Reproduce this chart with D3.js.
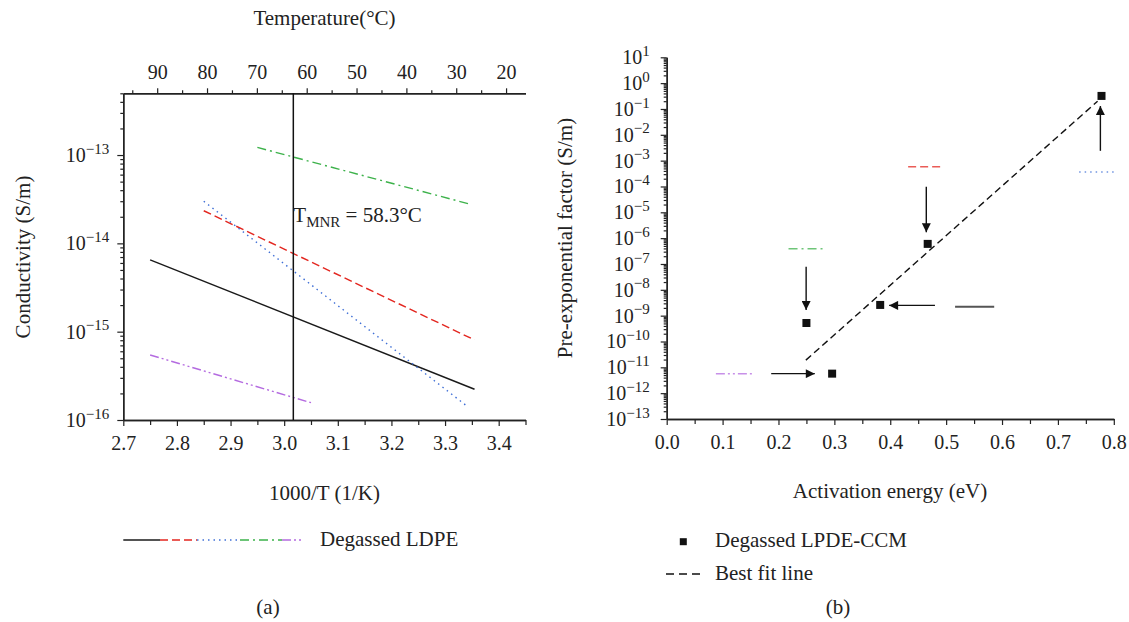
<!DOCTYPE html>
<html>
<head>
<meta charset="utf-8">
<script src="https://cdn.jsdelivr.net/npm/d3@7"></script>
<style>
  body { margin: 0; background: #fff; }
  svg text { font-family: "Liberation Serif", "Times New Roman", serif; fill: #222; }
</style>
</head>
<body>
<svg id="chart" width="1129" height="622"></svg>
<script>
// ---------- (a) conductivity vs 1000/T, degassed LDPE ----------
const lineIds     = ["solid", "dashed", "dotted", "dashDot", "dashDotDot"];
const lineInvT0   = [2.75, 2.85, 2.85, 2.95, 2.75];
const lineInvT1   = [3.355, 3.355, 3.34, 3.35, 3.05];
const lineSigma0  = [6.5e-15, 2.34e-14, 3.0e-14, 1.22e-13, 5.45e-16];
const lineSigma1  = [2.23e-16, 8.06e-16, 1.45e-16, 2.74e-14, 1.57e-16];
const tMNR        = 58.3;                       // °C
const invTTicks   = [2.7, 2.8, 2.9, 3.0, 3.1, 3.2, 3.3, 3.4];
const tempTicks   = [90, 80, 70, 60, 50, 40, 30, 20];
const sigmaDecades = [-16, -15, -14, -13];

// ---------- (b) pre-exponential factor vs activation energy ----------
const activationEnergy = [0.25, 0.296, 0.382, 0.467, 0.778];
const preFactor        = [5.2e-10, 5.7e-12, 2.6e-9, 6.0e-7, 0.32];
const fitEnergy        = [0.249, 0.771];
const fitPreFactor     = [1.9e-11, 0.2];
// levels of the individual LDPE lines, and arrows pointing to the CCM values
const refIds    = ["dashDotDot", "dashDot", "solid", "dashed", "dotted"];
const refE0     = [0.088, 0.218, 0.516, 0.432, 0.738];
const refE1     = [0.157, 0.280, 0.586, 0.495, 0.800];
const refLevel  = [5.7e-12, 3.9e-7, 2.2e-9, 5.8e-4, 3.6e-4];
const arrowE0   = [0.187, 0.2495, 0.480, 0.4645, 0.776];
const arrowE1   = [0.265, 0.2495, 0.398, 0.4645, 0.776];
const arrowP0   = [5.7e-12, 7.9e-8, 2.5e-9, 9.8e-5, 2.4e-3];
const arrowP1   = [5.7e-12, 1.66e-9, 2.5e-9, 1.7e-6, 0.13];
const energyTicks = [0, 0.1, 0.2, 0.3, 0.4, 0.5, 0.6, 0.7, 0.8];
const preDecades  = [-13, -12, -11, -10, -9, -8, -7, -6, -5, -4, -3, -2, -1, 0, 1];

// line styles
const styles = {
  solid:      { color: "#1a1a1a", dash: null },
  dashed:     { color: "#e3261f", dash: "8,4" },
  dotted:     { color: "#3f6fd6", dash: "1.5,4" },
  dashDot:    { color: "#3db24b", dash: "9,4,2,4" },
  dashDotDot: { color: "#b46be0", dash: "9,3,2,3,2,3" }
};

const svg = d3.select("#chart");
const TICK_FONT = 20, TITLE_FONT = 21;

// scales
const xL = d3.scaleLinear().domain([2.7, 3.45]).range([123.3, 525.5]);
const tL = d3.scaleLinear().domain([96.8, 16.1]).range([123.3, 525.5]);
const yL = d3.scaleLog().domain([1e-16, 5e-13]).range([420, 93.3]);

const xR = d3.scaleLinear().domain([0, 0.8]).range([666.7, 1113.8]);
const yR = d3.scaleLog().domain([1e-13, 10]).range([419, 57.3]);

// helpers
function styleAxis(g) {
  g.select(".domain").attr("stroke", "#222").attr("stroke-width", 1.4);
  g.selectAll(".tick line").attr("stroke", "#222").attr("stroke-width", 1.2);
  g.selectAll("text").attr("font-size", TICK_FONT).attr("font-family", "Liberation Serif").attr("fill", "#222");
}
function powerLabels(g) {
  g.selectAll(".tick text").each(function (d) {
    const t = d3.select(this);
    const e = Math.round(Math.log10(d));
    t.text(null);
    t.append("tspan").text("10");
    t.append("tspan").attr("dy", "-0.55em").attr("font-size", 15)
      .text(e < 0 ? "\u2212" + (-e) : String(e));
  });
}
function logMinor(decades) {
  const out = [];
  decades.slice(0, -1).forEach(k => { for (let m = 2; m <= 9; m++) out.push(m * Math.pow(10, k)); });
  return out;
}

// ===== Panel (a) =====
const gA = svg.append("g");

// minor ticks first
gA.append("g").attr("transform", "translate(123.3,0)")
  .call(d3.axisLeft(yL).tickValues(logMinor(sigmaDecades.concat([-12])).filter(v => v <= 5e-13)).tickSize(3).tickFormat("").tickSizeOuter(0))
  .call(styleAxis);
gA.append("g").attr("transform", "translate(123.3,0)")
  .call(d3.axisLeft(yL).tickValues(sigmaDecades.map(k => Math.pow(10, k))).tickSize(6).tickPadding(8).tickSizeOuter(0))
  .call(styleAxis).call(powerLabels);

gA.append("g").attr("transform", "translate(0,420)")
  .call(d3.axisBottom(xL).tickValues(d3.range(2.75, 3.46, 0.1)).tickSize(5).tickFormat("").tickSizeOuter(0))
  .call(styleAxis);
gA.append("g").attr("transform", "translate(0,420)")
  .call(d3.axisBottom(xL).tickValues(invTTicks).tickSize(6).tickPadding(10).tickFormat(d3.format(".1f")).tickSizeOuter(0))
  .call(styleAxis);

gA.append("g").attr("transform", "translate(0,93.3)")
  .call(d3.axisTop(tL).tickValues(d3.range(95, 20, -10)).tickSize(3).tickFormat("").tickSizeOuter(0))
  .call(styleAxis);
gA.append("g").attr("transform", "translate(0,93.3)")
  .call(d3.axisTop(tL).tickValues(tempTicks).tickSize(5).tickPadding(9).tickSizeOuter(0))
  .call(styleAxis);

// data lines
const lineGen = d3.line().x(d => xL(d[0])).y(d => yL(d[1]));
lineIds.forEach((id, i) => {
  const st = styles[id];
  gA.append("path")
    .attr("d", lineGen([[lineInvT0[i], lineSigma0[i]], [lineInvT1[i], lineSigma1[i]]]))
    .attr("fill", "none").attr("stroke", st.color)
    .attr("stroke-width", 1.4)
    .attr("stroke-dasharray", st.dash);
});

// T_MNR marker
const xMNR = xL(1000 / (tMNR + 273.15));
gA.append("line").attr("x1", xMNR).attr("x2", xMNR).attr("y1", yL(5e-13)).attr("y2", yL(1e-16))
  .attr("stroke", "#111").attr("stroke-width", 1.5);
const lbl = gA.append("text").attr("x", xMNR).attr("y", 222).attr("font-size", TITLE_FONT);
lbl.append("tspan").text("T");
lbl.append("tspan").attr("font-size", 15).attr("dy", 5).text("MNR");
lbl.append("tspan").attr("dy", -5).text(" = " + tMNR + "\u00b0C");

// titles
gA.append("text").attr("x", 324.5).attr("y", 25).attr("text-anchor", "middle").attr("font-size", TITLE_FONT).text("Temperature(\u00b0C)");
gA.append("text").attr("x", 324.5).attr("y", 500).attr("text-anchor", "middle").attr("font-size", TITLE_FONT).text("1000/T (1/K)");
gA.append("text").attr("transform", "translate(30,257) rotate(-90)").attr("text-anchor", "middle").attr("font-size", TITLE_FONT).text("Conductivity (S/m)");

// legend (a)
const legSegs = [[123.3, 160], [160, 197], [197, 240], [240, 282], [282, 304]];
lineIds.forEach((id, i) => {
  const st = styles[id];
  gA.append("line").attr("x1", legSegs[i][0]).attr("x2", legSegs[i][1]).attr("y1", 540).attr("y2", 540)
    .attr("stroke", st.color).attr("stroke-width", 1.4).attr("stroke-dasharray", st.dash);
});
gA.append("text").attr("x", 320).attr("y", 546).attr("font-size", TITLE_FONT).text("Degassed LDPE");
gA.append("text").attr("x", 268).attr("y", 614).attr("text-anchor", "middle").attr("font-size", TITLE_FONT).text("(a)");

// ===== Panel (b) =====
const gB = svg.append("g");

gB.append("g").attr("transform", "translate(666.7,0)")
  .call(d3.axisLeft(yR).tickValues(logMinor(preDecades)).tickSize(3).tickFormat("").tickSizeOuter(0))
  .call(styleAxis);
gB.append("g").attr("transform", "translate(666.7,0)")
  .call(d3.axisLeft(yR).tickValues(preDecades.map(k => Math.pow(10, k))).tickSize(6).tickPadding(11).tickSizeOuter(0))
  .call(styleAxis).call(powerLabels);

gB.append("g").attr("transform", "translate(0,419)")
  .call(d3.axisBottom(xR).tickValues(d3.range(0.05, 0.8, 0.1)).tickSize(5).tickFormat("").tickSizeOuter(0))
  .call(styleAxis);
gB.append("g").attr("transform", "translate(0,419)")
  .call(d3.axisBottom(xR).tickValues(energyTicks).tickSize(6).tickPadding(10).tickFormat(d3.format(".1f")).tickSizeOuter(0))
  .call(styleAxis);

// arrowhead
svg.append("defs").append("marker")
  .attr("id", "head").attr("viewBox", "0 0 10 10").attr("refX", 10).attr("refY", 5)
  .attr("markerUnits", "userSpaceOnUse").attr("markerWidth", 10).attr("markerHeight", 9)
  .attr("orient", "auto")
  .append("path").attr("d", "M0,0 L10,5 L0,10 Z").attr("fill", "#111");

// reference levels
refIds.forEach((id, i) => {
  const st = styles[id];
  gB.append("line")
    .attr("x1", xR(refE0[i])).attr("x2", xR(refE1[i]))
    .attr("y1", yR(refLevel[i])).attr("y2", yR(refLevel[i]))
    .attr("stroke", id === "solid" ? "#555" : st.color)
    .attr("stroke-opacity", id === "solid" ? 1 : 0.75)
    .attr("stroke-width", id === "solid" ? 2 : 1.5)
    .attr("stroke-dasharray", st.dash);
});

// arrows
arrowE0.forEach((e, i) => {
  gB.append("line")
    .attr("x1", xR(e)).attr("y1", yR(arrowP0[i]))
    .attr("x2", xR(arrowE1[i])).attr("y2", yR(arrowP1[i]))
    .attr("stroke", "#111").attr("stroke-width", 1.4)
    .attr("marker-end", "url(#head)");
});

// best fit line
gB.append("path")
  .attr("d", d3.line().x(d => xR(d[0])).y(d => yR(d[1]))(fitEnergy.map((e, i) => [e, fitPreFactor[i]])))
  .attr("fill", "none").attr("stroke", "#111").attr("stroke-width", 1.4).attr("stroke-dasharray", "7,4");

// CCM points
const S = 8;
gB.selectAll("rect.pt").data(activationEnergy).join("rect").attr("class", "pt")
  .attr("x", (d) => xR(d) - S / 2)
  .attr("y", (d, i) => yR(preFactor[i]) - S / 2)
  .attr("width", S).attr("height", S).attr("fill", "#111");

// titles
gB.append("text").attr("x", 890).attr("y", 498).attr("text-anchor", "middle").attr("font-size", TITLE_FONT).text("Activation energy (eV)");
gB.append("text").attr("transform", "translate(572,238) rotate(-90)").attr("text-anchor", "middle").attr("font-size", TITLE_FONT).text("Pre-exponential factor (S/m)");

// legend (b)
gB.append("rect").attr("x", 683.3 - 3.5).attr("y", 541.7 - 3.5).attr("width", 7).attr("height", 7).attr("fill", "#111");
gB.append("text").attr("x", 715).attr("y", 547).attr("font-size", TITLE_FONT).text("Degassed LPDE-CCM");
gB.append("line").attr("x1", 666).attr("x2", 701).attr("y1", 574).attr("y2", 574)
  .attr("stroke", "#111").attr("stroke-width", 1.4).attr("stroke-dasharray", "8,5");
gB.append("text").attr("x", 715).attr("y", 580).attr("font-size", TITLE_FONT).text("Best fit line");
gB.append("text").attr("x", 838).attr("y", 614).attr("text-anchor", "middle").attr("font-size", TITLE_FONT).text("(b)");
</script>
</body>
</html>
